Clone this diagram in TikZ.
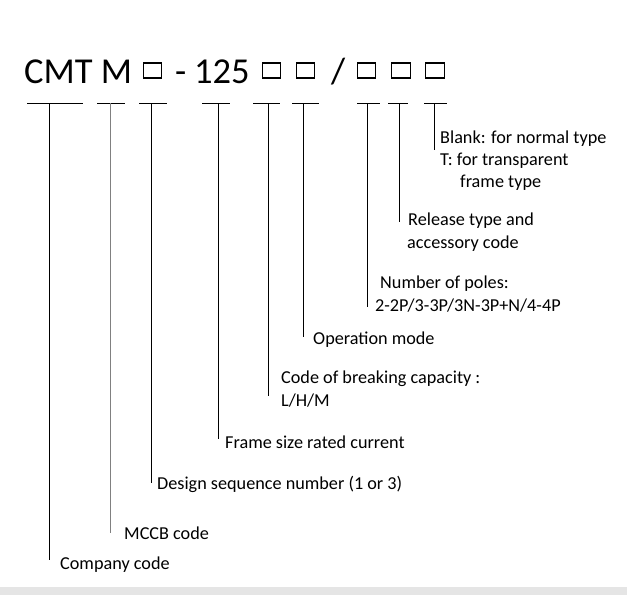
\documentclass[tikz,border=0pt]{standalone}
\usepackage{fontspec}
\setmainfont{Carlito}
\tikzset{
  lbl/.style={anchor=base west, inner sep=0pt, font=\fontsize{18.2}{22}\selectfont},
  ttl/.style={anchor=base west, inner sep=0pt, font=\fontsize{36.5}{40}\selectfont},
  slot/.style={draw, line width=1.4pt, minimum width=18.5pt, minimum height=15pt, inner sep=0pt},
  lead/.style={line width=0.9pt}
}

\begin{document}
\begin{tikzpicture}[x=1pt, y=-1pt]
  \useasboundingbox (0,0) rectangle (627,595);
  \fill[gray!20] (0,587) rectangle (627,595);

  % model string
  \node[ttl] (cmt) at (24,83) {CMT M};
  \node[slot] (s1) at (152.5,70.5) {};
  \node[ttl] (dash) at (175,83) {-};
  \node[ttl] (amp) at (194,83) {125};
  \node[slot] (s2) at (271.5,70.5) {};
  \node[slot] (s3) at (305.5,70.5) {};
  \node[ttl] (sl) at (331,83) {/};
  \node[slot] (s4) at (366.5,70.5) {};
  \node[slot] (s5) at (401,70.5) {};
  \node[slot] (s6) at (435,70.5) {};

  % leader lines: left/right of the bar, stem, foot
  \foreach \l/\r/\v/\e/\c [count=\i] in {27/83/49/560/black, 97/125/110/533/gray,
      139/167/151/483/black, 202/230/218/439/black, 253/280/268/396/black,
      292/319/303/337/black, 357/380/367/307/black, 388/408/399/222/black,
      424/447/434/150/black}
  {
    \coordinate (top\i) at (\v,103);
    \coordinate (foot\i) at (\v,\e);
    \draw[lead] (\l,103) -- (\r,103);
    \draw[lead,\c] (top\i) -- (foot\i);
  }

  % meanings
  \node[lbl] (company) at (60,569) {Company code};
  \node[lbl] (mccb) at (124,539) {MCCB code};
  \node[lbl] (design) at (157,489) {Design sequence number (1 or 3)};
  \node[lbl] (frame) at (225,448) {Frame size rated current};
  \node[lbl] (brk) at (281,383) {Code of breaking capacity :};
  \node[lbl] (lhm) at (281,406) {L/H/M};
  \node[lbl] (oper) at (313,344) {Operation mode};
  \node[lbl] (poles) at (380,288) {Number of poles:};
  \node[lbl] (polesval) at (375,311) {2-2P/3-3P/3N-3P+N/4-4P};
  \node[lbl] (rel) at (408,225) {Release type and};
  \node[lbl] (acc) at (407,248) {accessory code};
  \node[lbl] (blank) at (440,143) {Blank: for normal type};
  \node[lbl] (transp) at (440,165) {T: for transparent};
  \node[lbl] (ftype) at (460,187) {frame type};
\end{tikzpicture}
\end{document}
